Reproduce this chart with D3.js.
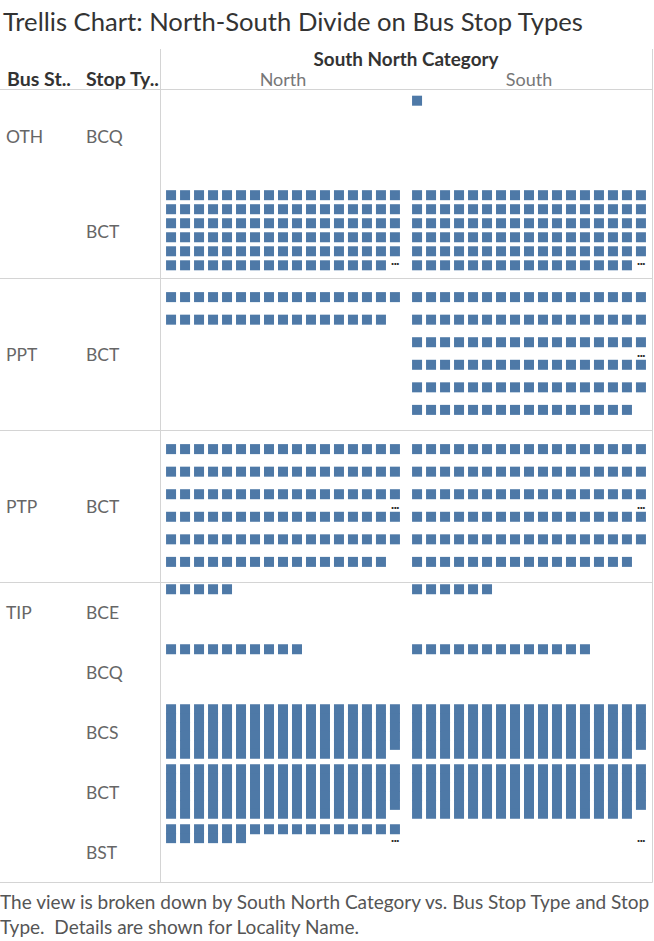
<!DOCTYPE html>
<html>
<head>
<meta charset="utf-8">
<script src="https://cdn.jsdelivr.net/npm/d3@7"></script>
<style>
  html, body { margin: 0; padding: 0; background: #fff; }
  svg { display: block; }
  text { font-family: Lato, "Open Sans", sans-serif; }
</style>
</head>
<body>
<svg id="chart" width="654" height="941"></svg>
<script>
// ---------------- data ----------------
const title = "Trellis Chart: North-South Divide on Bus Stop Types";
const columnField = "South North Category";
const rowFieldLabels = ["Bus St..", "Stop Ty.."];
const regions = ["North", "South"];
const busStopTypes = ["OTH", "OTH", "PPT", "PTP", "TIP", "TIP", "TIP", "TIP", "TIP"];
const stopTypes    = ["BCQ", "BCT", "BCT", "BCT", "BCE", "BCQ", "BCS", "BCT", "BST"];
// number of marks in each of the 6 packed lines of a cell (17 per line)
const northCounts = [
  [0, 0, 0, 0, 0, 0],
  [17, 17, 17, 17, 17, 16],
  [17, 16, 0, 0, 0, 0],
  [17, 17, 17, 17, 17, 16],
  [5, 0, 0, 0, 0, 0],
  [10, 0, 0, 0, 0, 0],
  [17, 17, 17, 17, 17, 16],
  [17, 17, 17, 17, 17, 16],
  [17, 6, 0, 0, 0, 0]
];
const southCounts = [
  [1, 0, 0, 0, 0, 0],
  [17, 17, 17, 17, 17, 16],
  [17, 17, 17, 17, 17, 16],
  [17, 17, 17, 17, 17, 16],
  [6, 0, 0, 0, 0, 0],
  [13, 0, 0, 0, 0, 0],
  [17, 17, 17, 17, 17, 16],
  [17, 17, 17, 17, 17, 16],
  [0, 0, 0, 0, 0, 0]
];
// line index at which Tableau shows its "more marks" ellipsis (null = none)
const northEllipsis = [null, 5, null, 2.7, null, null, null, null, 1.55];
const southEllipsis = [null, 5, 2.7, 2.7, null, null, null, null, 1.55];
const footerLines = [
  "The view is broken down by South North Category vs. Bus Stop Type and Stop",
  "Type.  Details are shown for Locality Name."
];

// ---------------- layout ----------------
const headerBottom = 89.5;
const paneLeft = 160, paneRight = 652;
const subrowHeights = [94.5, 94.5, 152, 152, 60, 60, 60, 60, 60];
const perLine = 17, lines = 6, markSize = 10;
const markColor = "#4e79a7", gridColor = "#d4d4d4";

const svg = d3.select("#chart");

// scale a text's font size so that it spans the given width; returns the size
function fitWidth(sel, width) {
  let out = null;
  sel.each(function () {
    const t = d3.select(this);
    const fs = parseFloat(t.attr("font-size"));
    const w = this.getComputedTextLength();
    if (w > 0) { out = fs * width / w; t.attr("font-size", out.toFixed(2)); }
  });
  return out;
}

const tops = [headerBottom, ...d3.cumsum(subrowHeights).map(v => v + headerBottom)];
const tableBottom = tops[tops.length - 1];

const xPane = d3.scaleBand().domain(regions).range([paneLeft, paneRight]);
const xCol = d3.scalePoint().domain(d3.range(perLine)).range([0, xPane.bandwidth()]).padding(0.79);

function lineScale(i) {
  const h = subrowHeights[i];
  const pad = 0.87;
  const step = h / (lines - 1 + 2 * pad);
  return d3.scaleLinear().domain([0, 1]).range([tops[i] + pad * step - 1, tops[i] + (pad + 1) * step - 1]);
}

// ---------------- grid lines ----------------
const bandStarts = busStopTypes.map((b, i) => (i === 0 || busStopTypes[i - 1] !== b) ? i : -1).filter(i => i >= 0);
const hLines = [headerBottom, ...bandStarts.slice(1).map(i => tops[i]), tableBottom];
svg.append("g").selectAll("line").data(hLines).join("line")
  .attr("x1", 0).attr("x2", paneRight + 0.5)
  .attr("y1", d => d).attr("y2", d => d)
  .attr("stroke", gridColor).attr("stroke-width", 1);
svg.append("g").selectAll("line").data([paneLeft + 0.5, paneRight + 0.5]).join("line")
  .attr("x1", d => d).attr("x2", d => d)
  .attr("y1", 49).attr("y2", tableBottom)
  .attr("stroke", gridColor).attr("stroke-width", 1);

// ---------------- title ----------------
svg.append("text").attr("x", 3).attr("y", 31)
  .attr("font-size", 23).attr("fill", "#333").text(title)
  .call(fitWidth, 580);

// ---------------- headers ----------------
svg.selectAll(".rowfield").data(rowFieldLabels).join("text")
  .attr("class", "rowfield")
  .attr("x", (d, i) => i === 0 ? 7 : 86).attr("y", 86)
  .attr("font-size", 16).attr("font-weight", 700).attr("fill", "#333").text(d => d)
  .each(function (d, i) { d3.select(this).call(fitWidth, i === 0 ? 64 : 73); });
svg.append("text").attr("x", (paneLeft + paneRight) / 2).attr("y", 66)
  .attr("text-anchor", "middle").attr("font-size", 16).attr("font-weight", 700)
  .attr("fill", "#333").text(columnField)
  .call(fitWidth, 185);
svg.selectAll(".colhdr").data(regions).join("text")
  .attr("class", "colhdr")
  .attr("x", d => xPane(d) + xPane.bandwidth() / 2).attr("y", 86)
  .attr("text-anchor", "middle").attr("font-size", 18).attr("fill", "#777").text(d => d);

// row headers
svg.selectAll(".bus").data(bandStarts).join("text")
  .attr("class", "bus")
  .attr("x", 6).attr("y", i => tops[i] + subrowHeights[i] / 2).attr("dy", "0.38em")
  .attr("font-size", 17.5).attr("fill", "#666").text(i => busStopTypes[i]);
svg.selectAll(".stop").data(stopTypes).join("text")
  .attr("class", "stop")
  .attr("x", 86).attr("y", (d, i) => tops[i] + subrowHeights[i] / 2).attr("dy", "0.38em")
  .attr("font-size", 17.5).attr("fill", "#666").text(d => d);

// ---------------- marks ----------------
const marks = [];
const dots = [];
regions.forEach(region => {
  const counts = region === "North" ? northCounts : southCounts;
  const ell = region === "North" ? northEllipsis : southEllipsis;
  counts.forEach((lineCounts, ri) => {
    lineCounts.forEach((n, li) => {
      for (let k = 0; k < n; k++) marks.push({ region, ri, li, k });
    });
    if (ell[ri] !== null) dots.push({ region, ri, li: ell[ri] });
  });
});

svg.append("g").selectAll("rect").data(marks).join("rect")
  .attr("x", d => xPane(d.region) + xCol(d.k) - markSize / 2)
  .attr("y", d => lineScale(d.ri)(d.li) - markSize / 2)
  .attr("width", markSize).attr("height", markSize)
  .attr("fill", markColor);

svg.append("g").selectAll("text").data(dots).join("text")
  .attr("x", d => xPane(d.region) + xCol(perLine - 1))
  .attr("y", d => lineScale(d.ri)(d.li))
  .attr("dy", "-0.05em")
  .attr("text-anchor", "middle").attr("font-size", 13).attr("font-weight", 900)
  .attr("letter-spacing", -0.5)
  .attr("fill", "#2a2a2a").text("...");

// ---------------- footer ----------------
const footer = svg.append("g").selectAll("text").data(footerLines).join("text")
  .attr("x", 0).attr("y", (d, i) => 909 + i * 25)
  .attr("font-size", 17).attr("fill", "#555")
  .style("white-space", "pre").text(d => d);
const footerSize = fitWidth(footer.filter((d, i) => i === 0), 650);
footer.attr("font-size", footerSize.toFixed(2));
</script>
</body>
</html>
